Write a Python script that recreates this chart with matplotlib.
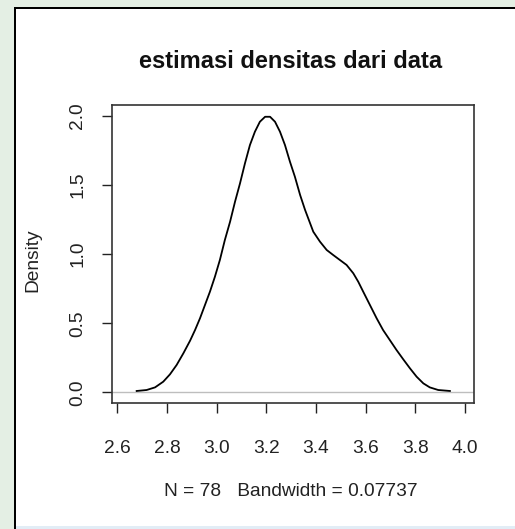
"""
Kernel density estimate of the data (R-style plot.density look).
"""
import matplotlib
matplotlib.use("Agg")
import matplotlib.pyplot as plt
from matplotlib.patches import Rectangle

# density curve
dens_x = [2.678, 2.718, 2.752, 2.785, 2.812, 2.839, 2.866, 2.893, 2.913, 2.933,
          2.953, 2.973, 2.993, 3.013, 3.033, 3.054, 3.074, 3.094, 3.114, 3.134,
          3.154, 3.174, 3.195, 3.215, 3.235, 3.255, 3.275, 3.295, 3.315, 3.336,
          3.356, 3.389, 3.416, 3.443, 3.469, 3.496, 3.523, 3.550, 3.570, 3.590,
          3.617, 3.644, 3.670, 3.697, 3.724, 3.751, 3.778, 3.805, 3.832, 3.858,
          3.892, 3.939]
dens_y = [0.011, 0.018, 0.037, 0.078, 0.131, 0.199, 0.283, 0.374, 0.451, 0.536,
          0.632, 0.728, 0.836, 0.957, 1.101, 1.233, 1.378, 1.510, 1.655, 1.787,
          1.883, 1.955, 1.991, 1.991, 1.955, 1.883, 1.787, 1.667, 1.558, 1.426,
          1.318, 1.161, 1.089, 1.029, 0.993, 0.957, 0.921, 0.861, 0.800, 0.728,
          0.632, 0.536, 0.451, 0.379, 0.307, 0.240, 0.175, 0.114, 0.066, 0.037,
          0.018, 0.011]

x_ticks = [2.6, 2.8, 3.0, 3.2, 3.4, 3.6, 3.8, 4.0]
y_ticks = [0.0, 0.5, 1.0, 1.5, 2.0]
title = "estimasi densitas dari data"
sub = "N = 78   Bandwidth = 0.07737"

W, H = 515, 529
plt.rcParams["font.family"] = ["Liberation Sans", "DejaVu Sans"]

fig = plt.figure(figsize=(W / 100, H / 100), dpi=100)
fig.patch.set_facecolor("#e4efe4")

# screenshot frame: white window with black left/top edge, blue strip at bottom
def px_rect(x0, y0, x1, y1, **kw):
    fig.patches.append(Rectangle((x0 / W, 1 - y1 / H), (x1 - x0) / W, (y1 - y0) / H,
                                 transform=fig.transFigure, zorder=-10, **kw))

px_rect(14, 7, W, H, facecolor="#000000", lw=0)
px_rect(16, 9, W, H, facecolor="white", lw=0)
px_rect(16, 526, W, H, facecolor="#e2edf6", lw=0)

ax = fig.add_axes([111.7 / W, 1 - 403.3 / H, (474 - 111.7) / W, (403.3 - 105) / H])
ax.set_facecolor("white")
ax.axhline(0, color="#bebebe", lw=1.0)
ax.plot(dens_x, dens_y, color="black", lw=1.3)

ax.set_xlim(2.5775, 4.036)
ax.set_ylim(-0.078, 2.076)
ax.set_xticks(x_ticks)
ax.set_xticklabels([f"{v:.1f}" for v in x_ticks])
ax.set_yticks(y_ticks)
ax.set_yticklabels([f"{v:.1f}" for v in y_ticks], rotation=90, va="center")
ax.tick_params(direction="out", length=7.5, width=1.0, colors="#222222",
               labelsize=13.8, labelcolor="#222222")
ax.tick_params(axis="x", pad=19)
ax.tick_params(axis="y", pad=11)
for s in ax.spines.values():
    s.set_linewidth(1.2)
    s.set_color("#333333")

fig.text(291 / W, 1 - 62 / H, title, ha="center", va="center",
         fontsize=17, fontweight="bold", color="#111111")
fig.text(291 / W, 1 - 492 / H, sub, ha="center", va="center",
         fontsize=13.8, color="#222222")
fig.text(33 / W, 1 - 260 / H, "Density", ha="center", va="center",
         rotation=90, fontsize=13.8, color="#222222")

fig.savefig("out.png", dpi=100, facecolor=fig.get_facecolor())
